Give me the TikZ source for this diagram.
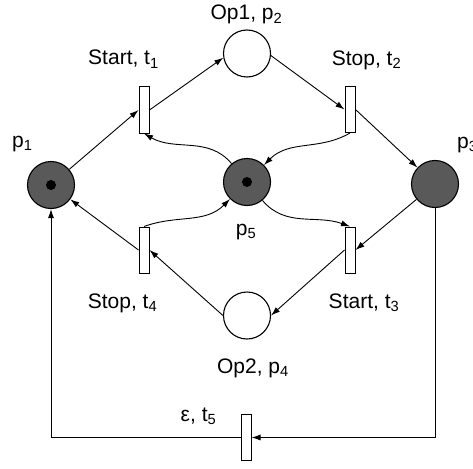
\documentclass[tikz,border=0pt]{standalone}
\usepackage{fontspec}
\setmainfont{Liberation Sans}
\usetikzlibrary{arrows.meta}
\tikzset{
  place/.style={circle, draw, line width=1.1pt, minimum size=47pt, inner sep=0pt, fill=white},
  marked/.style={place, fill=black!65},
  tokendot/.style={circle, fill=black, minimum size=10pt, inner sep=0pt},
  trans/.style={rectangle, draw, line width=1pt, fill=white, minimum width=10pt, minimum height=46pt, inner sep=0pt},
  arc/.style={-{Latex[length=9pt,width=6pt]}, line width=0.9pt},
  lbl/.style={font=\fontsize{21}{24}\selectfont, inner sep=0pt, anchor=base},
  lblw/.style={lbl, anchor=base west}
}
\begin{document}
\begin{tikzpicture}[x=1pt,y=1pt]
\useasboundingbox[fill=white] (0,0) rectangle (473,-468);
% places
\node[marked] (p1) at (51,-185) {};
\node[tokendot] (k1) at (51,-185) {};
\node[place] (p2) at (247,-53.5) {};
\node[marked] (p3) at (435,-184) {};
\node[place] (p4) at (247,-315.5) {};
\node[marked] (p5) at (247,-182) {};
\node[tokendot] (k5) at (247,-182) {};
% transitions
\node[trans] (t1) at (144,-110) {};
\node[trans] (t2) at (350,-109.5) {};
\node[trans] (t3) at (350,-250) {};
\node[trans] (t4) at (144,-250) {};
\node[trans] (t5) at (246,-437.5) {};
% labels
\node[lblw] (lp1) at (12,-147) {p\textsubscript{1}};
\node[lblw] (lp3) at (457,-148) {p\textsubscript{3}};
\node[lbl] (lp5) at (246,-235) {p\textsubscript{5}};
\node[lbl] (lt1) at (123.5,-65) {Start, t\textsubscript{1}};
\node[lbl] (lp2) at (246.5,-20) {Op1, p\textsubscript{2}};
\node[lbl] (lt2) at (366.5,-65.5) {Stop, t\textsubscript{2}};
\node[lbl] (lt4) at (122.5,-308) {Stop, t\textsubscript{4}};
\node[lbl] (lt3) at (364,-308) {Start, t\textsubscript{3}};
\node[lbl] (lp4) at (253,-373) {Op2, p\textsubscript{4}};
\node[lbl] (lt5) at (198.5,-421.5) {ε, t\textsubscript{5}};
% arcs
\draw[arc] (p1) -- (t1.west);
\draw[arc] (t1.east) -- (p2.190);
\draw[arc] (p2.-5) -- (t2.west);
\draw[arc] (t2.east) -- (p3);
\draw[arc] (t2.south) to[out=-150, in=45] (p5);
\draw[arc] (p5) to[out=130, in=-30] (t1.south);
\draw[arc] (p5) to[out=-50, in=160] (t3.north);
\draw[arc] (t4.north) to[out=20, in=-135] (p5);
\draw[arc] (p3) -- (t3.east);
\draw[arc] (t3.west) -- (p4.east);
\draw[arc] (p4.west) -- (t4.east);
\draw[arc] (t4.west) -- (p1);
\draw[arc] (p3.south) |- (t5.east);
\draw[arc] (t5.west) -| (p1.south);
\end{tikzpicture}
\end{document}
